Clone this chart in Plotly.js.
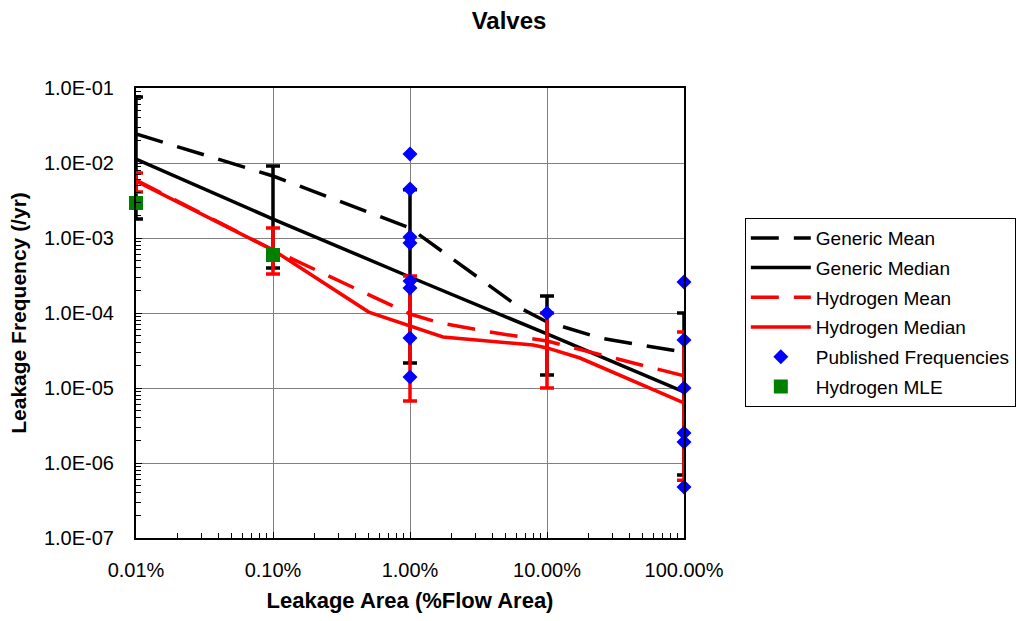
<!DOCTYPE html>
<html>
<head>
<meta charset="utf-8">
<script src="https://cdn.plot.ly/plotly-3.0.1.min.js"></script>
<style>
  html, body { margin: 0; padding: 0; background: #fff; }
  #chart { width: 1018px; height: 621px; }
</style>
</head>
<body>
<div id="chart"></div>
<script>
// Leakage area in percent of flow area, leakage frequency per year
const decades = [0.01, 0.1, 1, 10, 100];
const xTickText = ['0.01%', '0.10%', '1.00%', '10.00%', '100.00%'];
const yTickVals = [1e-7, 1e-6, 1e-5, 1e-4, 1e-3, 1e-2, 1e-1];
const yTickText = ['1.0E-07', '1.0E-06', '1.0E-05', '1.0E-04', '1.0E-03', '1.0E-02', '1.0E-01'];

const genericMeanX = [0.01, 0.1, 1, 6.35, 10, 24.4, 100];
const genericMeanY = [0.0244, 0.00671, 0.00136, 1.17e-4, 7.6e-5, 4.64e-5, 3.0e-5];

const genericMedianX = [0.01, 0.1, 1, 10, 100];
const genericMedianY = [0.0113, 0.00179, 3.02e-4, 5.25e-5, 8.85e-6];

const h2MeanX = [0.01, 0.1, 1, 1.66, 3.84, 10, 100];
const h2MeanY = [0.00593, 6.92e-4, 9.7e-5, 7.36e-5, 5.58e-5, 4.23e-5, 1.45e-5];

const h2MedianX = [0.01, 0.1, 0.5, 1, 1.74, 7.9, 10, 17.4, 100];
const h2MedianY = [0.00575, 6.92e-4, 1.03e-4, 6.71e-5, 4.79e-5, 3.74e-5, 3.42e-5, 2.51e-5, 6.31e-6];

// Uncertainty bounds at each decade
const genericUpper = [0.0759, 0.0091, 0.0044, 1.69e-4, 1.0e-4];
const genericLower = [0.00179, 3.98e-4, 2.15e-5, 1.49e-5, 6.9e-7];
const h2Upper = [0.00736, 0.00136, 3.11e-4, 1.0e-4, 5.58e-5];
const h2Lower = [0.0041, 3.3e-4, 6.7e-6, 1.0e-5, 5.9e-7];

const pubX = [1, 1, 1, 1, 1, 1, 1, 1, 10, 100, 100, 100, 100, 100, 100];
const pubY = [0.0132, 0.0045, 0.00103, 8.58e-4, 2.67e-4, 2.16e-4, 4.64e-5, 1.40e-5,
              1.0e-4, 2.59e-4, 4.37e-5, 1.0e-5, 2.51e-6, 1.91e-6, 4.79e-7];

const mleX = [0.01, 0.1];
const mleY = [0.00293, 5.93e-4];

// Centre of each error bar: the median value at that decade
function valueAt(xs, ys, x) { return ys[xs.indexOf(x)]; }
const genericCentre = decades.map(d => valueAt(genericMedianX, genericMedianY, d));
const h2Centre = decades.map(d => valueAt(h2MedianX, h2MedianY, d));

function errorTrace(centre, upper, lower, color) {
  return {
    x: decades, y: centre, type: 'scatter', mode: 'markers',
    marker: { size: 1, color: 'rgba(0,0,0,0)' },
    showlegend: false, hoverinfo: 'skip', cliponaxis: false,
    error_y: {
      type: 'data', symmetric: false,
      array: upper.map((u, i) => u - centre[i]),
      arrayminus: lower.map((l, i) => centre[i] - l),
      color: color, thickness: 3.5, width: 7
    }
  };
}

const longDash = '28px,15px';

const traces = [
  errorTrace(genericCentre, genericUpper, genericLower, '#000000'),
  { x: genericMeanX, y: genericMeanY, name: 'Generic Mean', legendgroup: 'g1', type: 'scatter', mode: 'lines',
    line: { color: '#000000', width: 3.5, dash: longDash } },
  { x: genericMedianX, y: genericMedianY, name: 'Generic Median', legendgroup: 'g2', type: 'scatter', mode: 'lines',
    line: { color: '#000000', width: 3.5 } },
  errorTrace(h2Centre, h2Upper, h2Lower, '#FF0000'),
  { x: h2MeanX, y: h2MeanY, name: 'Hydrogen Mean', legendgroup: 'g3', type: 'scatter', mode: 'lines',
    line: { color: '#FF0000', width: 3.5, dash: longDash } },
  { x: h2MedianX, y: h2MedianY, name: 'Hydrogen Median', legendgroup: 'g4', type: 'scatter', mode: 'lines',
    line: { color: '#FF0000', width: 3.5 } },
  { x: pubX, y: pubY, name: 'Published Frequencies', legendgroup: 'g5', type: 'scatter', mode: 'markers',
    cliponaxis: false,
    marker: { symbol: 'diamond', size: 11.5, color: '#0000FF', line: { width: 0 } } },
  { x: mleX, y: mleY, name: 'Hydrogen MLE', legendgroup: 'g6', type: 'scatter', mode: 'markers',
    cliponaxis: false,
    marker: { symbol: 'square', size: 14, color: '#008000', line: { width: 0 } } }
];

const font = 'Liberation Sans, Arial, sans-serif';

const layout = {
  width: 1018, height: 621,
  margin: { l: 136, r: 334, t: 88, b: 83, autoexpand: false },
  paper_bgcolor: '#ffffff', plot_bgcolor: '#ffffff',
  font: { family: font, color: '#000000', size: 18 },
  showlegend: true,
  title: {
    text: '<b>Valves</b>', font: { size: 24, family: font, color: '#000' },
    xref: 'container', x: 0.5, xanchor: 'center',
    yref: 'container', y: 0.967, yanchor: 'middle'
  },
  xaxis: {
    type: 'log', range: [-2, 2],
    tickmode: 'array', tickvals: decades, ticktext: xTickText,
    ticks: 'inside', ticklen: 6, tickcolor: '#000', tickwidth: 1,
    ticklabelstandoff: 13,
    tickfont: { size: 20, family: font },
    showgrid: true, gridcolor: '#808080', gridwidth: 1,
    showline: true, linecolor: '#000', linewidth: 2, mirror: true,
    zeroline: false, automargin: false,
    minor: { ticks: 'inside', ticklen: 5, tickcolor: '#000', dtick: 'D1', showgrid: false },
    title: { text: '<b>Leakage Area (%Flow Area)</b>', font: { size: 22, family: font }, standoff: 13 }
  },
  yaxis: {
    type: 'log', range: [-7, -1],
    tickmode: 'array', tickvals: yTickVals, ticktext: yTickText,
    ticks: 'inside', ticklen: 6, tickcolor: '#000', tickwidth: 1,
    ticklabelstandoff: 16,
    tickfont: { size: 20, family: font },
    showgrid: true, gridcolor: '#808080', gridwidth: 1,
    showline: true, linecolor: '#000', linewidth: 2, mirror: true,
    zeroline: false, automargin: false,
    minor: { ticks: 'inside', ticklen: 5, tickcolor: '#000', dtick: 'D1', showgrid: false },
    title: { text: '<b>Leakage Frequency (/yr)</b>', font: { size: 21, family: font }, standoff: 12 }
  },
  legend: {
    x: 1.111, xanchor: 'left', y: 0.711, yanchor: 'top',
    bordercolor: '#000', borderwidth: 1, bgcolor: '#fff',
    font: { size: 19, family: font },
    itemwidth: 60, tracegroupgap: 2
  }
};

Plotly.newPlot('chart', traces, layout, { displayModeBar: false, staticPlot: true });
</script>
</body>
</html>
